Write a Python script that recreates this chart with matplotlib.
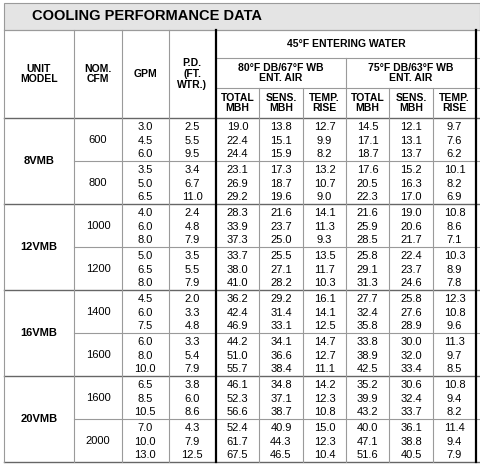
import matplotlib
matplotlib.use("Agg")
import matplotlib.pyplot as plt

plt.rcParams['font.family'] = ['Liberation Sans', 'DejaVu Sans']

# table data
models = ["8VMB", "12VMB", "16VMB", "20VMB"]
cfm = ["600", "800", "1000", "1200", "1400", "1600", "1600", "2000"]
gpm = [["3.0", "4.5", "6.0"], ["3.5", "5.0", "6.5"], ["4.0", "6.0", "8.0"], ["5.0", "6.5", "8.0"],
       ["4.5", "6.0", "7.5"], ["6.0", "8.0", "10.0"], ["6.5", "8.5", "10.5"], ["7.0", "10.0", "13.0"]]
pd_ft = [["2.5", "5.5", "9.5"], ["3.4", "6.7", "11.0"], ["2.4", "4.8", "7.9"], ["3.5", "5.5", "7.9"],
         ["2.0", "3.3", "4.8"], ["3.3", "5.4", "7.9"], ["3.8", "6.0", "8.6"], ["4.3", "7.9", "12.5"]]
perf = [
    [["19.0", "13.8", "12.7", "14.5", "12.1", "9.7"], ["22.4", "15.1", "9.9", "17.1", "13.1", "7.6"], ["24.4", "15.9", "8.2", "18.7", "13.7", "6.2"]],
    [["23.1", "17.3", "13.2", "17.6", "15.2", "10.1"], ["26.9", "18.7", "10.7", "20.5", "16.3", "8.2"], ["29.2", "19.6", "9.0", "22.3", "17.0", "6.9"]],
    [["28.3", "21.6", "14.1", "21.6", "19.0", "10.8"], ["33.9", "23.7", "11.3", "25.9", "20.6", "8.6"], ["37.3", "25.0", "9.3", "28.5", "21.7", "7.1"]],
    [["33.7", "25.5", "13.5", "25.8", "22.4", "10.3"], ["38.0", "27.1", "11.7", "29.1", "23.7", "8.9"], ["41.0", "28.2", "10.3", "31.3", "24.6", "7.8"]],
    [["36.2", "29.2", "16.1", "27.7", "25.8", "12.3"], ["42.4", "31.4", "14.1", "32.4", "27.6", "10.8"], ["46.9", "33.1", "12.5", "35.8", "28.9", "9.6"]],
    [["44.2", "34.1", "14.7", "33.8", "30.0", "11.3"], ["51.0", "36.6", "12.7", "38.9", "32.0", "9.7"], ["55.7", "38.4", "11.1", "42.5", "33.4", "8.5"]],
    [["46.1", "34.8", "14.2", "35.2", "30.6", "10.8"], ["52.3", "37.1", "12.3", "39.9", "32.4", "9.4"], ["56.6", "38.7", "10.8", "43.2", "33.7", "8.2"]],
    [["52.4", "40.9", "15.0", "40.0", "36.1", "11.4"], ["61.7", "44.3", "12.3", "47.1", "38.8", "9.4"], ["67.5", "46.5", "10.4", "51.6", "40.5", "7.9"]],
]
sub_heads = ["TOTAL\nMBH", "SENS.\nMBH", "TEMP.\nRISE"] * 2

fig = plt.figure(figsize=(4.8, 4.65), dpi=100)
ax = fig.add_axes([0, 0, 1, 1])
ax.set_xlim(0, 480)
ax.set_ylim(465, 0)
ax.axis('off')

xs = [4, 74, 122, 169, 216, 259, 303, 346, 389, 433, 476]
top, head_bot, bot = 30, 118, 462
grey = '#9a9a9a'

# title band
ax.add_patch(plt.Rectangle((4, 3), 476, top - 3, facecolor='#e4e4e4', edgecolor=grey, lw=0.8))
ax.text(32, 16, "COOLING PERFORMANCE DATA", fontsize=10.5, fontweight='bold', va='center', ha='left')

# horizontal lines
ax.plot([4, 480], [top, top], color=grey, lw=0.8)
ax.plot([216, 480], [58, 58], color=grey, lw=0.8)
ax.plot([216, 480], [88, 88], color=grey, lw=0.8)
ax.plot([4, 480], [head_bot, head_bot], color='#666666', lw=1.0)
sub_h = (bot - head_bot) / 8
for i in range(1, 8):
    y = head_bot + i * sub_h
    x0 = 4 if i % 2 == 0 else 74
    ax.plot([x0, 480], [y, y], color='#666666' if i % 2 == 0 else grey, lw=1.0 if i % 2 == 0 else 0.8)
ax.plot([4, 480], [bot, bot], color='#666666', lw=1.0)

# vertical lines
for x in xs:
    if x in (216, 476):
        ax.plot([x, x], [top, bot], color='black', lw=1.6)
    elif x in (259, 303, 389, 433):
        ax.plot([x, x], [88, bot], color=grey, lw=0.8)
    elif x == 346:
        ax.plot([x, x], [58, bot], color=grey, lw=0.8)
    else:
        ax.plot([x, x], [top, bot], color=grey, lw=0.8)

hk = dict(fontsize=7.5, fontweight='bold', ha='center', va='center', linespacing=1.1)
ax.text(39, 74, "UNIT\nMODEL", **hk)
ax.text(98, 74, "NOM.\nCFM", **hk)
ax.text(145, 74, "GPM", **hk)
ax.text(192, 74, "P.D.\n(FT.\nWTR.)", **hk)
ax.text(346, 44, "45°F ENTERING WATER", **hk)
ax.text(281, 73, "80°F DB/67°F WB\nENT. AIR", **hk)
ax.text(411, 73, "75°F DB/63°F WB\nENT. AIR", **hk)
for j, h in enumerate(sub_heads):
    ax.text((xs[4 + j] + xs[5 + j]) / 2, 103, h, **hk)

dk = dict(fontsize=8, ha='center', va='center')
for g in range(8):
    y0 = head_bot + g * sub_h
    if g % 2 == 0:
        ax.text(39, y0 + sub_h, models[g // 2], fontsize=8, fontweight='bold', ha='center', va='center')
    ax.text(98, y0 + sub_h / 2, cfm[g], **dk)
    for r in range(3):
        y = y0 + 9 + r * 13.5
        ax.text(145, y, gpm[g][r], **dk)
        ax.text(192, y, pd_ft[g][r], **dk)
        for j, v in enumerate(perf[g][r]):
            ax.text((xs[4 + j] + xs[5 + j]) / 2, y, v, **dk)

fig.savefig("out.png", dpi=100)
